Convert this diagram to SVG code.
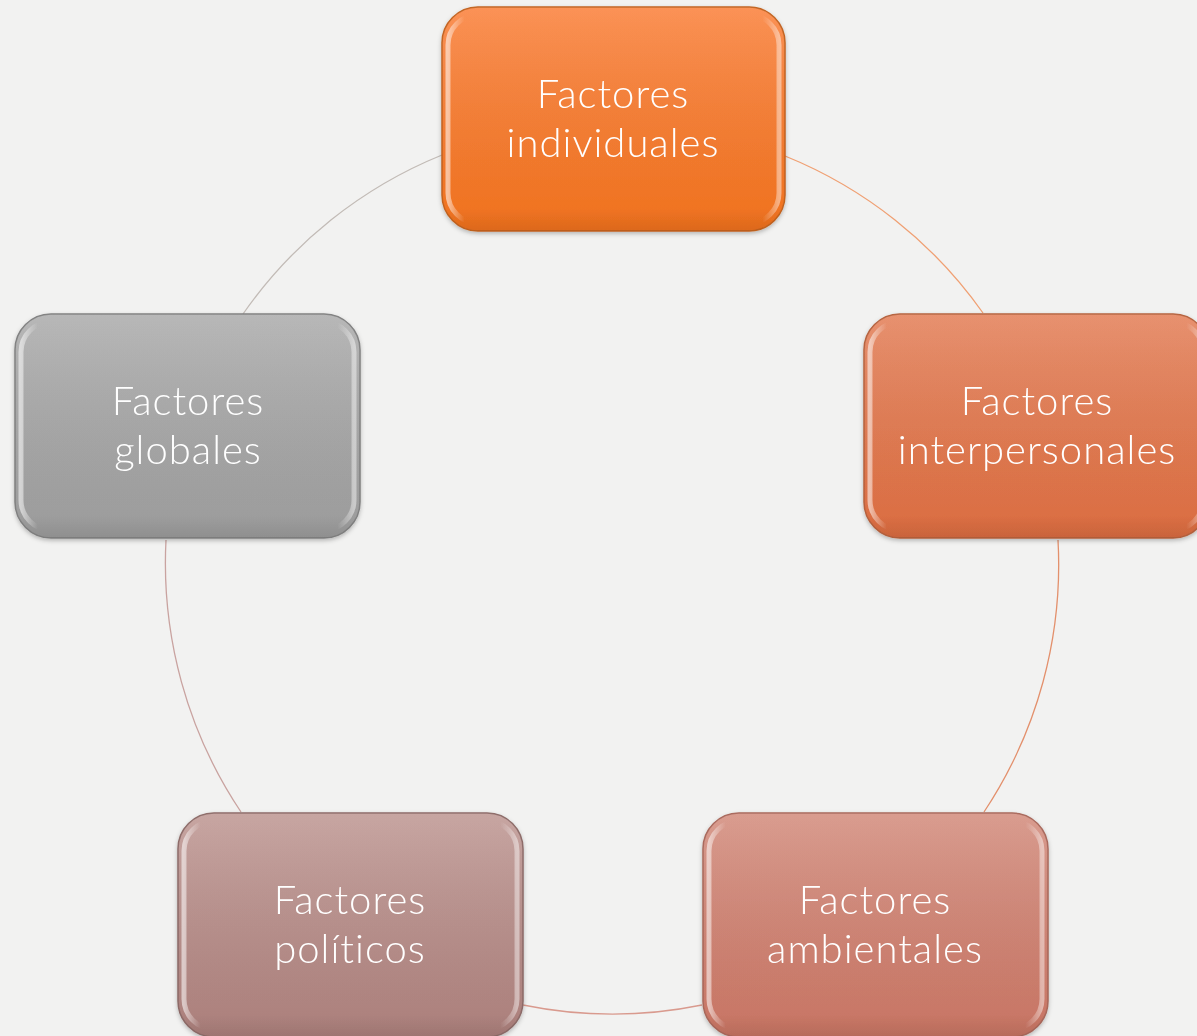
<svg xmlns="http://www.w3.org/2000/svg" width="1197" height="1036" viewBox="0 0 1197 1036">
<defs>
<linearGradient id="gOrange" x1="0" y1="0" x2="0" y2="1"><stop offset="0" stop-color="#fb8b4b"/><stop offset="1" stop-color="#ef711e"/></linearGradient>
<linearGradient id="gGrey" x1="0" y1="0" x2="0" y2="1"><stop offset="0" stop-color="#b3b3b3"/><stop offset="1" stop-color="#9b9b9b"/></linearGradient>
<linearGradient id="gInter" x1="0" y1="0" x2="0" y2="1"><stop offset="0" stop-color="#e68a66"/><stop offset="1" stop-color="#da6c40"/></linearGradient>
<linearGradient id="gPol" x1="0" y1="0" x2="0" y2="1"><stop offset="0" stop-color="#c4a09c"/><stop offset="1" stop-color="#ab7f7b"/></linearGradient>
<linearGradient id="gAmb" x1="0" y1="0" x2="0" y2="1"><stop offset="0" stop-color="#d79688"/><stop offset="1" stop-color="#c77463"/></linearGradient>
<linearGradient id="bevel" x1="0" y1="0" x2="1" y2="0"><stop offset="0" stop-color="#fff" stop-opacity="0.55"/><stop offset="0.05" stop-color="#fff" stop-opacity="0"/><stop offset="0.95" stop-color="#fff" stop-opacity="0"/><stop offset="1" stop-color="#fff" stop-opacity="0.45"/></linearGradient>
<linearGradient id="shade" x1="0" y1="0" x2="0" y2="1"><stop offset="0" stop-color="#fff" stop-opacity="0.06"/><stop offset="0.9" stop-color="#000" stop-opacity="0"/><stop offset="1" stop-color="#000" stop-opacity="0.08"/></linearGradient>
<filter id="drop" x="-10%" y="-10%" width="120%" height="125%"><feDropShadow dx="0" dy="2" stdDeviation="2" flood-color="#000" flood-opacity="0.25"/></filter>
</defs>
<style>
.box{stroke-width:1.5}
.bev{fill:none;stroke:url(#bevel);stroke-width:5}
.sh{fill:url(#shade)}
.lbl{font-family:Lato,"Open Sans","Liberation Sans",sans-serif;font-weight:300;font-size:40px;letter-spacing:1px;font-variant-ligatures:none;fill:#ffffff;text-anchor:middle}
.arc{fill:none;stroke-width:1.3}
</style>
<rect width="1197" height="1036" fill="#f2f2f1"/>
<g id="connectors">
<path class="arc" stroke="#f0a073" d="M 785 156 A 447 447 0 0 1 983 313"/>
<path class="arc" stroke="#e3906c" d="M 1058 540 A 447 447 0 0 1 984 812"/>
<path class="arc" stroke="#d99a8e" d="M 702 1005 A 447 447 0 0 1 523 1005"/>
<path class="arc" stroke="#c9a3a0" d="M 241 812 A 447 447 0 0 1 166 540"/>
<path class="arc" stroke="#c2bbb6" d="M 243 314 A 447 447 0 0 1 442 155"/>
</g>
<g id="node-individuales" filter="url(#drop)">
<rect class="box" x="442" y="7" width="343" height="224" rx="36" fill="url(#gOrange)" stroke="#c2621f"/>
<rect class="sh" x="442" y="7" width="343" height="224" rx="36"/>
<rect class="bev" x="448" y="15" width="331" height="208" rx="30"/>
<text class="lbl" x="613" y="108">Factores<tspan x="613" dy="49">individuales</tspan></text>
</g>
<g id="node-interpersonales" filter="url(#drop)">
<rect class="box" x="864" y="314" width="345" height="224" rx="36" fill="url(#gInter)" stroke="#b5613d"/>
<rect class="sh" x="864" y="314" width="345" height="224" rx="36"/>
<rect class="bev" x="870" y="322" width="333" height="208" rx="30"/>
<text class="lbl" x="1037" y="415">Factores<tspan x="1037" dy="49">interpersonales</tspan></text>
</g>
<g id="node-ambientales" filter="url(#drop)">
<rect class="box" x="703" y="813" width="345" height="224" rx="36" fill="url(#gAmb)" stroke="#a8675a"/>
<rect class="sh" x="703" y="813" width="345" height="224" rx="36"/>
<rect class="bev" x="709" y="821" width="333" height="208" rx="30"/>
<text class="lbl" x="875" y="914">Factores<tspan x="875" dy="49">ambientales</tspan></text>
</g>
<g id="node-politicos" filter="url(#drop)">
<rect class="box" x="178" y="813" width="345" height="224" rx="36" fill="url(#gPol)" stroke="#8c6a67"/>
<rect class="sh" x="178" y="813" width="345" height="224" rx="36"/>
<rect class="bev" x="184" y="821" width="333" height="208" rx="30"/>
<text class="lbl" x="350" y="914">Factores<tspan x="350" dy="49">políticos</tspan></text>
</g>
<g id="node-globales" filter="url(#drop)">
<rect class="box" x="15" y="314" width="345" height="224" rx="36" fill="url(#gGrey)" stroke="#808080"/>
<rect class="sh" x="15" y="314" width="345" height="224" rx="36"/>
<rect class="bev" x="21" y="322" width="333" height="208" rx="30"/>
<text class="lbl" x="188" y="415">Factores<tspan x="188" dy="49">globales</tspan></text>
</g>
</svg>
